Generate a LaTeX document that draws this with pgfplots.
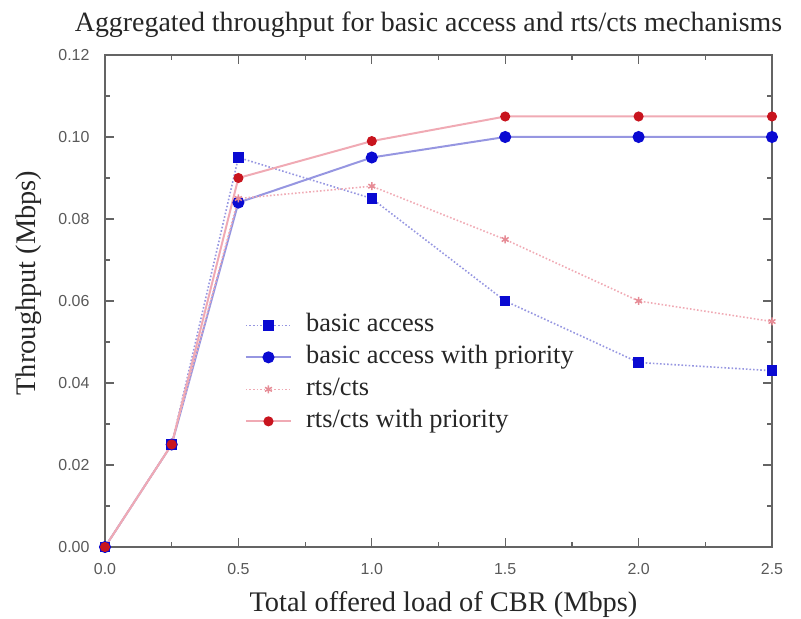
\documentclass[border=0pt]{standalone}
\usepackage{fontspec}
\setmainfont{Liberation Serif}
\newfontfamily\tickfont{Liberation Sans}
\usepackage{pgfplots}
\pgfplotsset{compat=1.18}
\definecolor{mblue}{RGB}{10,10,210}
\definecolor{lblue}{RGB}{150,150,225}
\definecolor{mred}{RGB}{200,20,30}
\definecolor{lred}{RGB}{240,170,180}
\definecolor{mpink}{RGB}{230,140,150}
\definecolor{axgray}{RGB}{100,100,100}
\begin{document}
\begin{tikzpicture}
\useasboundingbox (-105bp,-72bp) rectangle (696bp,547bp);
\begin{axis}[
  at={(0,0)}, anchor=south west,
  scale only axis, width=667bp, height=492bp,
  xmin=0, xmax=2.5, ymin=0, ymax=0.12,
  xtick={0,0.5,...,2.5}, ytick={0,0.02,...,0.12},
  minor x tick num=1, minor y tick num=1,
  tick align=inside,
  major tick length=9bp, minor tick length=5bp,
  axis line style={axgray, line width=2pt},
  every tick/.style={axgray, line width=1.2pt},
  xticklabel style={font=\tickfont\fontsize{16}{18}\selectfont, text=gray!70!black, yshift=-13bp},
  yticklabel style={font=\tickfont\fontsize{16}{18}\selectfont, text=gray!70!black, xshift=-12bp},
  /pgf/number format/assume math mode=true,
  x tick label style={/pgf/number format/.cd, fixed, fixed zerofill, precision=1},
  y tick label style={/pgf/number format/.cd, fixed, fixed zerofill, precision=2},
  xlabel={Total offered load of CBR (Mbps)},
  ylabel={Throughput (Mbps)},
  xlabel style={font=\fontsize{28.5}{32}\selectfont, text=black!85, yshift=-10bp, xshift=5bp},
  ylabel style={font=\fontsize{28.5}{32}\selectfont, text=black!85, yshift=10bp, xshift=18bp},
  title={Aggregated throughput for basic access and rts/cts mechanisms},
  title style={font=\fontsize{28}{32}\selectfont, text=black!85, yshift=8bp, xshift=-10bp},
  legend style={draw=none, fill=none, at={(axis cs:0.512,0.0585)}, anchor=north west,
    font=\fontsize{26.5}{30}\selectfont, text=black!85, row sep=0bp,
    nodes={inner sep=3bp, text height=19bp, text depth=7bp}},
  legend cell align=left,
  legend image code/.code={\draw[mark repeat=2,mark phase=2] plot coordinates {(0cm,0cm) (0.8cm,0cm) (1.6cm,0cm)};},
]
\addplot[lblue, dotted, line width=1.6pt, mark=square*, mark size=4.5bp, mark options={solid, mblue, fill=mblue}]
  coordinates {(0,0) (0.25,0.025) (0.5,0.095) (1.0,0.085) (1.5,0.060) (2.0,0.045) (2.5,0.043)};
\addlegendentry{\hspace{11bp}basic access}
\addplot[lblue, solid, line width=2pt, mark=*, mark size=5bp, mark options={mblue, fill=mblue}]
  coordinates {(0,0) (0.25,0.025) (0.5,0.084) (1.0,0.095) (1.5,0.100) (2.0,0.100) (2.5,0.100)};
\addlegendentry{\hspace{11bp}basic access with priority}
\addplot[lred, dotted, line width=1.6pt, mark=asterisk, mark size=4bp, mark options={solid, mpink, line width=1.5pt}]
  coordinates {(0,0) (0.25,0.025) (0.5,0.085) (1.0,0.088) (1.5,0.075) (2.0,0.060) (2.5,0.055)};
\addlegendentry{\hspace{11bp}rts/cts}
\addplot[lred, solid, line width=2pt, mark=*, mark size=4bp, mark options={mred, fill=mred}]
  coordinates {(0,0) (0.25,0.025) (0.5,0.090) (1.0,0.099) (1.5,0.105) (2.0,0.105) (2.5,0.105)};
\addlegendentry{\hspace{11bp}rts/cts with priority}
\end{axis}
\end{tikzpicture}
\end{document}
